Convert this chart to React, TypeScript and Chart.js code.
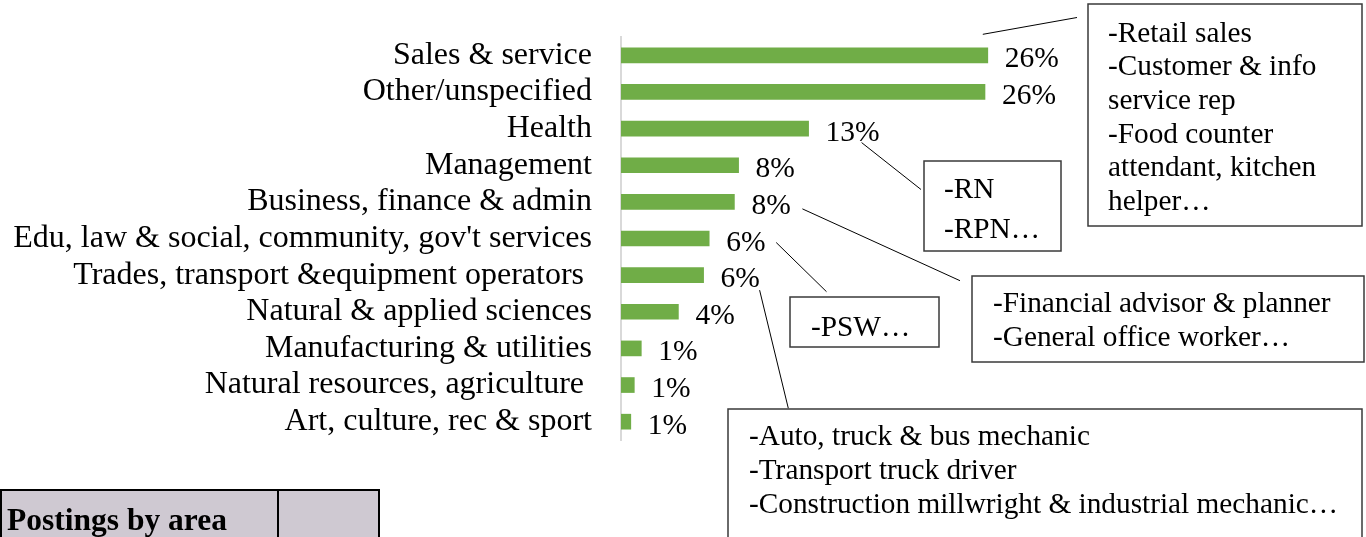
import React, { useEffect, useRef } from "react";
import { Chart, registerables } from "chart.js";

Chart.register(...registerables);

// ---- data ----
const categories: string[] = [
  "Sales & service",
  "Other/unspecified",
  "Health",
  "Management",
  "Business, finance & admin",
  "Edu, law & social, community, gov't services",
  "Trades, transport &equipment operators ",
  "Natural & applied sciences",
  "Manufacturing & utilities",
  "Natural resources, agriculture ",
  "Art, culture, rec & sport",
];
const shares: number[] = [26.2, 26.0, 13.4, 8.4, 8.1, 6.3, 5.9, 4.1, 1.45, 0.95, 0.7];

const retailLines = ["-Retail sales", "-Customer & info", "service rep", "-Food counter", "attendant, kitchen", "helper…"];
const healthLines = ["-RN", "-RPN…"];
const eduLines = ["-PSW…"];
const businessLines = ["-Financial advisor & planner", "-General office worker…"];
const tradesLines = ["-Auto, truck & bus mechanic", "-Transport truck driver", "-Construction millwright & industrial mechanic…"];
const tableTitle = "Postings by area";

// ---- layout of callouts (positions only) ----
type Callout = {
  bar: number;
  lines: string[];
  box: [number, number, number, number];
  textX: number;
  firstBaseline: number;
  step: number;
  from: [number, number]; // offset from bar end
  to: [number, number];
};

const callouts: Callout[] = [
  { bar: 0, lines: retailLines, box: [1088, 4, 274, 222], textX: 1108, firstBaseline: 41.5, step: 33.7, from: [-5, -21], to: [1077, 17.5] },
  { bar: 2, lines: healthLines, box: [924, 161, 137, 90], textX: 944, firstBaseline: 197.5, step: 40, from: [53, 14], to: [921, 189.5] },
  { bar: 5, lines: eduLines, box: [790, 297, 149, 50], textX: 811, firstBaseline: 336, step: 34, from: [67, 4], to: [826.5, 291.7] },
  { bar: 4, lines: businessLines, box: [972, 276, 392, 86], textX: 993, firstBaseline: 312, step: 34, from: [68, 7], to: [960, 280.7] },
  { bar: 6, lines: tradesLines, box: [728, 409, 634, 150], textX: 749, firstBaseline: 445, step: 34, from: [56, 15], to: [788.3, 408.3] },
];

const SERIF = "'Liberation Serif', 'Times New Roman', Times, serif";

const overlayPlugin = {
  id: "overlay",
  afterDatasetsDraw(chart: any) {
    const ctx = chart.ctx as CanvasRenderingContext2D;
    const meta = chart.getDatasetMeta(0);
    ctx.save();
    // data labels
    ctx.font = `29.5px ${SERIF}`;
    ctx.fillStyle = "#000";
    ctx.textAlign = "left";
    ctx.textBaseline = "alphabetic";
    meta.data.forEach((el: any, i: number) => {
      ctx.fillText(Math.round(shares[i]) + "%", el.x + 17, el.y + 12);
    });

    // connectors
    ctx.strokeStyle = "#000";
    ctx.lineWidth = 1;
    callouts.forEach((c) => {
      const el = meta.data[c.bar];
      ctx.beginPath();
      ctx.moveTo(el.x + c.from[0], el.y + c.from[1]);
      ctx.lineTo(c.to[0], c.to[1]);
      ctx.stroke();
    });

    // boxes
    callouts.forEach((c) => {
      const [x, y, w, h] = c.box;
      ctx.fillStyle = "#fff";
      ctx.fillRect(x, y, w, h);
      ctx.strokeStyle = "#3a3a3a";
      ctx.lineWidth = 1.5;
      ctx.strokeRect(x, y, w, h);
      ctx.fillStyle = "#000";
      ctx.font = `29.3px ${SERIF}`;
      c.lines.forEach((t, k) => ctx.fillText(t, c.textX, c.firstBaseline + k * c.step));
    });

    // table cell
    ctx.fillStyle = "#cfc9d2";
    ctx.fillRect(1, 490, 378, 60);
    ctx.strokeStyle = "#000";
    ctx.lineWidth = 2;
    ctx.strokeRect(1, 490, 378, 60);
    ctx.beginPath();
    ctx.moveTo(278, 490);
    ctx.lineTo(278, 540);
    ctx.stroke();
    ctx.fillStyle = "#000";
    ctx.font = `bold 31.5px ${SERIF}`;
    ctx.fillText(tableTitle, 7, 530);
    ctx.restore();
  },
};

export default function App() {
  const ref = useRef<HTMLCanvasElement | null>(null);
  useEffect(() => {
    if (!ref.current) return;
    const chart = new Chart(ref.current, {
      type: "bar",
      data: {
        labels: categories,
        datasets: [
          {
            data: shares,
            backgroundColor: "#70AD47",
            borderWidth: 0,
            barThickness: 15,
          },
        ],
      },
      options: {
        indexAxis: "y",
        animation: false,
        responsive: false,
        events: [],
        layout: { padding: { left: 0, top: 37, bottom: 97, right: 325 } },
        plugins: { legend: { display: false }, tooltip: { enabled: false } },
        scales: {
          x: { display: false, min: 0, max: 30 },
          y: {
            afterFit: (scale: any) => {
              scale.width = 621;
              scale.paddingTop = 0;
              scale.paddingBottom = 0;
            },
            grid: { display: false, drawTicks: false },
            border: { display: true, color: "#d9d9d9", width: 2 },
            ticks: {
              autoSkip: false,
              padding: 29,
              color: "#000",
              font: { family: SERIF, size: 32, lineHeight: 1 },
            },
          },
        },
      },
      plugins: [overlayPlugin],
    });
    return () => chart.destroy();
  }, []);
  return (
    <div style={{ position: "fixed", left: 0, top: 0, width: 1366, height: 537, overflow: "hidden", background: "#fff" }}>
      <canvas ref={ref} width={1366} height={537} style={{ display: "block" }} />
    </div>
  );
}
